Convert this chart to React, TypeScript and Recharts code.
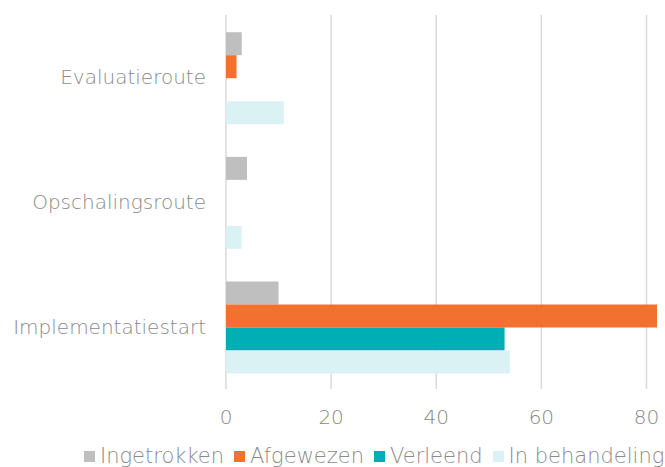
import { BarChart, Bar, XAxis, YAxis, CartesianGrid } from "recharts";

const categories = ["Evaluatieroute", "Opschalingsroute", "Implementatiestart"];
const ingetrokken = [3, 4, 10];
const afgewezen = [2, 0, 82];
const verleend = [0, 0, 53];
const inBehandeling = [11, 3, 54];
const xTicks = [0, 20, 40, 60, 80];
const xMax = 82;

const series = [
  { key: "Ingetrokken", color: "#bfbfbf" },
  { key: "Afgewezen", color: "#f27130" },
  { key: "Verleend", color: "#00afb5" },
  { key: "In behandeling", color: "#daf2f3" },
];

const data = categories.map((name, i) => ({
  name,
  Ingetrokken: ingetrokken[i],
  Afgewezen: afgewezen[i],
  Verleend: verleend[i],
  "In behandeling": inBehandeling[i],
}));

const font = "'DejaVu Sans', sans-serif";
const textColor = "#8a8a8a";
const tickStyle = { fill: textColor, fontSize: 20, fontFamily: font, fontWeight: 200 };

// grid only at the tick values (no line at the plot's right edge)
const gridX = (props: any) => {
  const { xAxis, offset } = props;
  if (xAxis && typeof xAxis.scale === "function") return xTicks.map((t) => xAxis.scale(t));
  return xTicks.map((t) => offset.left + (t / xMax) * offset.width);
};

export default function App() {
  return (
    <div style={{ position: "absolute", left: 0, top: 0, width: 665, height: 467 }}>
      <BarChart
        width={665}
        height={467}
        data={data}
        layout="vertical"
        margin={{ top: 15, right: 8, bottom: 48, left: 0 }}
        barCategoryGap="13.8%"
        barGap={0}
      >
        <CartesianGrid horizontal={false} stroke="#d9d9d9" strokeWidth={1.5} verticalCoordinatesGenerator={gridX} />
        <XAxis
          type="number"
          domain={[0, xMax]}
          ticks={xTicks}
          allowDataOverflow
          axisLine={false}
          tickLine={false}
          tickMargin={15}
          tick={tickStyle}
        />
        <YAxis
          type="category"
          dataKey="name"
          width={226}
          axisLine={false}
          tickLine={false}
          tickMargin={14}
          tick={tickStyle}
        />
        {series.map((s) => (
          <Bar key={s.key} dataKey={s.key} fill={s.color} isAnimationActive={false} />
        ))}
      </BarChart>
      <div
        style={{
          position: "absolute",
          left: 84,
          top: 443,
          display: "flex",
          alignItems: "center",
          fontFamily: font,
          fontWeight: 200,
          fontSize: 21,
          lineHeight: "26px",
          color: textColor,
          whiteSpace: "nowrap",
        }}
      >
        {series.map((s) => (
          <span key={s.key} style={{ display: "flex", alignItems: "center", marginRight: 10 }}>
            <span style={{ width: 11, height: 11, background: s.color, marginRight: 5, display: "inline-block" }} />
            {s.key}
          </span>
        ))}
      </div>
    </div>
  );
}
